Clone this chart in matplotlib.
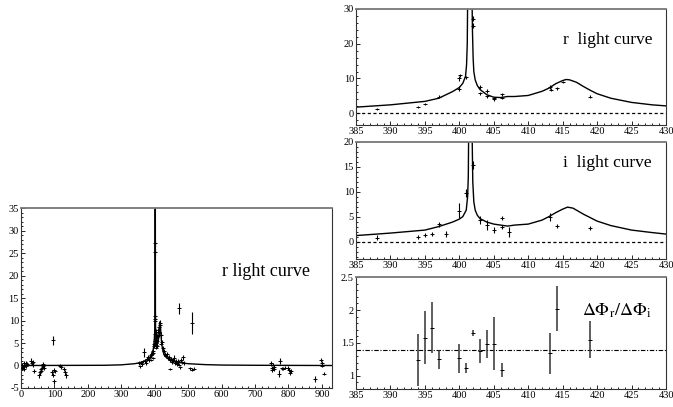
import matplotlib
matplotlib.use("Agg")
import matplotlib.pyplot as plt
from matplotlib.ticker import MultipleLocator

plt.rcParams['font.family'] = ['Liberation Serif', 'DejaVu Serif']
plt.rcParams['mathtext.fontset'] = 'stix'
plt.rcParams['axes.unicode_minus'] = False

# ---------------- data ----------------
# model curve (r band), zoomed window
model_r_t = [385, 390, 395, 397, 399, 400, 400.5, 400.9, 401.05, 401.15, 401.2, 401.5, 401.85, 401.9,
             402.0, 402.1, 402.3, 402.6, 403, 404, 405, 406, 407, 408, 410, 412, 413, 414, 415,
             415.5, 416, 417, 418, 419, 420, 422, 425, 428, 430]
model_r_A = [1.74, 2.4, 3.4, 4.3, 6.2, 7.4, 8.6, 10.6, 14.0, 20.0, 32.0, 60.0, 32.0, 24.0,
             16.0, 12.0, 9.6, 8.0, 6.8, 5.3, 4.6, 4.5, 4.8, 4.8, 5.1, 6.3, 7.2, 8.5, 9.4,
             9.7, 9.6, 8.9, 7.7, 6.6, 5.6, 4.3, 3.1, 2.4, 2.1]

# model curve (r band), full season
model_full_t = [0, 250, 300, 340, 360, 375] + model_r_t + [440, 450, 470, 500, 550, 600, 700, 930]
model_full_A = [0.0, 0.05, 0.15, 0.4, 0.7, 1.2] + model_r_A + [1.5, 1.1, 0.7, 0.4, 0.2, 0.1, 0.05, 0.0]

# model curve (i band)
model_i_t = [385, 390, 395, 397, 399, 400, 400.5, 401, 401.2, 401.3, 401.35, 401.6, 401.85, 401.95,
             402.1, 402.3, 402.6, 403, 404, 405, 406, 407, 408, 410, 412, 413, 414, 415, 415.7,
             416.5, 417, 418, 419, 420, 422, 425, 428, 430]
model_i_A = [1.2, 1.7, 2.3, 3.0, 3.9, 4.5, 5.0, 6.3, 9.0, 13.0, 22.0, 60.0, 22.0, 12.0,
             8.0, 6.3, 5.3, 4.6, 3.9, 3.5, 3.3, 3.1, 3.3, 3.5, 4.3, 5.0, 5.8, 6.5, 6.9,
             6.7, 6.3, 5.5, 4.8, 4.1, 3.2, 2.3, 1.8, 1.5]

# r data in the zoomed window
r_t = [388, 394, 395, 397, 400, 400, 400.05, 401, 402, 402.05, 403, 403.05, 404, 404.05,
       405, 405.05, 406.2, 406.25, 413.2, 413.25, 414.2, 415, 419]
r_A = [1.2, 1.7, 2.7, 4.8, 7.1, 10.0, 10.9, 10.3, 27.2, 25.2, 7.5, 5.7, 6.5, 4.9,
       4.3, 4.0, 5.4, 4.4, 7.5, 6.8, 7.2, 8.9, 4.8]
r_err = [0.3, 0.3, 0.3, 0.4, 0.6, 0.6, 0.5, 0.5, 0.8, 0.8, 0.6, 0.5, 0.6, 0.4,
         0.4, 0.4, 0.5, 0.4, 0.5, 0.4, 0.4, 0.3, 0.3]

# i data
i_t = [388, 394, 395, 396, 397, 398, 400, 401, 402, 403, 404, 405, 406.2, 406.25, 407.2,
       413.2, 414.2, 419]
i_A = [0.8, 1.0, 1.3, 1.5, 3.5, 1.5, 6.2, 9.7, 15.3, 4.3, 3.4, 2.3, 4.8, 3.0, 2.0,
       5.0, 3.1, 2.7]
i_err = [0.5, 0.4, 0.4, 0.4, 0.5, 0.6, 1.5, 0.8, 0.8, 0.8, 1.0, 0.6, 0.4, 0.4, 1.0,
         0.8, 0.4, 0.4]

# full-season r data
full_t = [2, 4, 6, 8, 10, 12, 14, 16, 18, 31, 33, 35, 37, 40,
          55, 57, 59, 61, 63, 65, 67, 69, 96, 93, 95, 98, 100, 103, 116, 119,
          130, 133, 135,
          352, 355, 358, 361, 364, 367, 370, 373, 376, 379, 382, 385, 388, 391, 394, 397, 400,
          404, 407, 410, 413, 416, 419, 422, 425, 428, 431, 434, 437, 440, 443, 446, 449,
          452, 455, 458, 461, 464, 467, 470, 473, 476, 479, 482, 485, 488, 445, 474, 510,
          505, 512, 518,
          748, 750, 752, 754, 756, 758, 775, 773, 780, 785, 790, 799, 802, 805, 807,
          878, 897, 899, 901, 905]
full_A = [-0.5, 0.2, -0.3, 0.5, -0.8, 0.0, 0.6, -0.2, 0.3, 1.0, 0.6, 0.2, 0.8, -1.2,
          -2.2, -1.5, -0.8, -1.2, -0.5, -0.2, 0.3, -0.6, 5.6, -1.5, -2.1, -1.0, -3.5, -1.3, 0.0, -0.4,
          -0.8, -1.5, -2.2,
          0.5, -0.2, 0.7, 0.3, 0.9, 3.0, 1.0, 0.6, 1.4, 1.8, 1.2, 2.0, 2.4, 2.6, 3.2, 4.3, 5.5,
          4.5, 6.5, 7.8, 8.5, 9.4, 6.8, 5.2, 3.8, 3.2, 2.6, 2.2, 2.5, 1.6, 1.8, 1.2, 1.5,
          0.8, 1.2, 1.7, 0.6, 1.0, 0.4, 0.9, 0.2, -0.4, 1.2, 0.7, 1.8, 0.5, -0.8, 12.7, 9.5,
          -0.6, -0.9, -0.7,
          0.5, -0.5, -1.0, 0.2, -0.8, -0.3, 1.0, -1.8, -0.6, -0.7, -0.5, -0.5, -1.0, -1.6, -1.2,
          -3.0, 1.2, 0.5, 0.0, -1.8]
full_err = [0.5, 0.4, 0.4, 0.4, 0.5, 0.4, 0.5, 0.4, 0.5, 0.6, 0.5, 0.5, 0.5, 0.4,
            0.6, 0.5, 0.5, 0.5, 0.5, 0.4, 0.4, 0.4, 1.0, 0.5, 0.5, 0.5, 0.6, 0.4, 0.4, 0.4,
            0.5, 0.5, 0.6,
            0.4, 0.4, 0.4, 0.4, 0.4, 1.0, 0.4, 0.4, 0.5, 0.5, 0.4, 0.5, 0.5, 0.5, 0.5, 0.5, 0.6,
            0.6, 0.6, 0.6, 0.7, 0.7, 0.6, 0.5, 0.5, 0.5, 0.5, 0.4, 0.5, 0.4, 0.5, 0.4, 0.5,
            0.4, 0.5, 0.6, 0.4, 0.5, 0.4, 0.5, 0.4, 0.4, 0.5, 0.4, 0.6, 0.4, 0.3, 1.3, 2.4,
            0.3, 0.3, 0.3,
            0.5, 0.5, 0.5, 0.4, 0.5, 0.4, 0.6, 0.8, 0.3, 0.3, 0.3, 0.5, 0.5, 0.5, 0.5,
            0.7, 0.5, 0.4, 0.3, 0.4]

# colour ratio
ratio_t = [394, 395, 396, 397, 400, 401, 402, 403, 404, 405, 406.2, 413.2, 414.2, 419]
ratio_v = [1.24, 1.58, 1.73, 1.25, 1.27, 1.12, 1.65, 1.38, 1.48, 1.49, 1.09, 1.34, 2.02, 1.55]
ratio_err = [0.40, 0.40, 0.39, 0.15, 0.22, 0.08, 0.04, 0.18, 0.21, 0.40, 0.10, 0.31, 0.34, 0.28]
ratio_mean = 1.4

# ---------------- figure ----------------
fig = plt.figure(figsize=(6.73, 4.07), dpi=100)

ax_full = fig.add_axes([0.0312, 0.0467, 0.462, 0.442])
ax_r = fig.add_axes([0.529, 0.6929, 0.4606, 0.285])
ax_i = fig.add_axes([0.529, 0.3636, 0.4606, 0.288])
ax_c = fig.add_axes([0.529, 0.0442, 0.4606, 0.275])

def style(ax):
    for s in ax.spines.values():
        s.set_linewidth(0.8)
        s.set_color('#333333')
    ax.spines['top'].set_color('#777777')
    ax.spines['top'].set_linewidth(1.3)
    ax.tick_params(which='both', direction='in', labelsize=7.5, pad=1.5,
                   top=False, right=False, width=0.6)
    ax.tick_params(which='major', length=3)
    ax.tick_params(which='minor', length=1.5)

def errpts(ax, t, v, e, color='black', elw=0.8):
    ax.errorbar(t, v, yerr=e, fmt='_', ms=2.5, mew=0.7, color='black',
                ecolor=color, elinewidth=elw, capsize=0, zorder=3)

# full season
ax_full.plot(model_full_t, model_full_A, color='black', lw=1.0)
errpts(ax_full, full_t, full_A, full_err)
errpts(ax_full, r_t, r_A, r_err)
ax_full.set_xlim(0, 930)
ax_full.set_ylim(-5, 35)
ax_full.xaxis.set_major_locator(MultipleLocator(100))
ax_full.xaxis.set_minor_locator(MultipleLocator(20))
ax_full.yaxis.set_major_locator(MultipleLocator(5))
ax_full.yaxis.set_minor_locator(MultipleLocator(1))
ax_full.text(600, 20, 'r light curve', fontsize=13, va='baseline')
style(ax_full)

# r zoom
ax_r.plot(model_r_t, model_r_A, color='black', lw=1.0)
errpts(ax_r, r_t, r_A, r_err)
ax_r.axhline(0, color='black', lw=0.9, ls=(0, (2.5, 2)))
ax_r.set_xlim(385, 430)
ax_r.set_ylim(-3.4, 30)
ax_r.xaxis.set_major_locator(MultipleLocator(5))
ax_r.xaxis.set_minor_locator(MultipleLocator(1))
ax_r.yaxis.set_major_locator(MultipleLocator(10))
ax_r.yaxis.set_minor_locator(MultipleLocator(2))
ax_r.text(415, 20, 'r  light curve', fontsize=12.5, va='baseline')
style(ax_r)

# i zoom
ax_i.plot(model_i_t, model_i_A, color='black', lw=1.0)
errpts(ax_i, i_t, i_A, i_err)
ax_i.axhline(0, color='black', lw=0.9, ls=(0, (2.5, 2)))
ax_i.set_xlim(385, 430)
ax_i.set_ylim(-3.5, 20)
ax_i.xaxis.set_major_locator(MultipleLocator(5))
ax_i.xaxis.set_minor_locator(MultipleLocator(1))
ax_i.yaxis.set_major_locator(MultipleLocator(5))
ax_i.yaxis.set_minor_locator(MultipleLocator(1))
ax_i.text(415, 14.9, 'i  light curve', fontsize=12.5, va='baseline')
style(ax_i)

# colour ratio
errpts(ax_c, ratio_t, ratio_v, ratio_err, color='#333333', elw=1.1)
ax_c.axhline(ratio_mean, color='black', lw=0.8, ls=(0, (4, 1.5, 1, 1.5)))
ax_c.set_xlim(385, 430)
ax_c.set_ylim(0.8, 2.5)
ax_c.xaxis.set_major_locator(MultipleLocator(5))
ax_c.xaxis.set_minor_locator(MultipleLocator(1))
ax_c.yaxis.set_minor_locator(MultipleLocator(0.1))
ax_c.set_yticks([1, 1.5, 2, 2.5])
ax_c.set_yticklabels(['1', '1.5', '2', '2.5'])
ax_c.text(417.8, 1.91, r'$\Delta\Phi_{\mathrm{r}}/\Delta\Phi_{\mathrm{i}}$', fontsize=13, va='baseline')
style(ax_c)

fig.savefig('out.png', dpi=100)
